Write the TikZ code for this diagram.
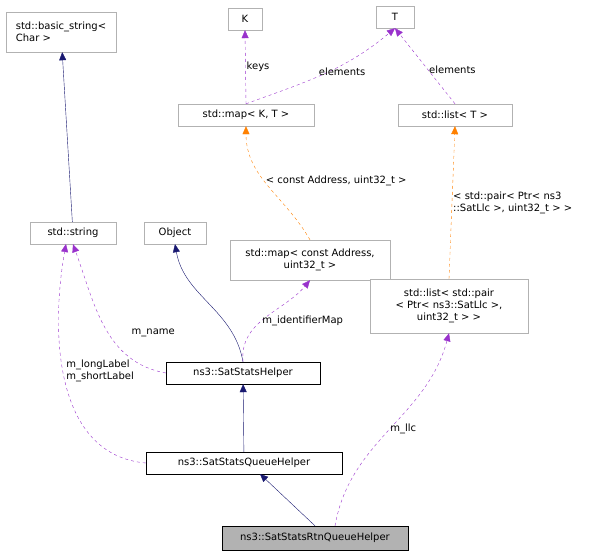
\documentclass[tikz,border=0pt]{standalone}
\usepackage{fontspec}
\setmainfont{DejaVu Sans}
\usetikzlibrary{arrows.meta}
\begin{document}
\begin{tikzpicture}[x=1pt,y=-1pt,
 box/.style={draw=#1,rectangle,inner sep=2pt,align=center,font=\fontsize{10}{12}\selectfont,fill=white},
 box/.default={black!30},
 inh/.style={draw={rgb,255:red,25;green,25;blue,112},-{Triangle[length=8pt,width=7pt]}},
 use/.style={draw={rgb,255:red,153;green,50;blue,204},dashed,-{Triangle[length=8pt,width=7pt]}},
 tpl/.style={draw=orange,dashed,-{Triangle[length=8pt,width=7pt]}},
 lab/.style={font=\fontsize{10}{12}\selectfont,align=left,inner sep=1pt}]
\useasboundingbox (0,0) rectangle (612,559);
\node[box,minimum width=34,minimum height=22] (K) at (245,19) {K};
\node[box,minimum width=38,minimum height=22] (T) at (395,17) {T};
\node[box,minimum width=110,minimum height=40,align=left] (bs) at (61,32) {std::basic\_string<\\ Char >};
\node[box,minimum width=136,minimum height=22] (mapKT) at (246,115) {std::map< K, T >};
\node[box,minimum width=114,minimum height=22] (listT) at (455,115) {std::list< T >};
\node[box,minimum width=86,minimum height=22] (str) at (73,233) {std::string};
\node[box,minimum width=62,minimum height=22] (obj) at (175,233) {Object};
\node[box,minimum width=160,minimum height=40] (mapA) at (310,260) {std::map< const Address,\\ uint32\_t >};
\node[box,minimum width=158,minimum height=54] (listP) at (449,306) {std::list< std::pair\\< Ptr< ns3::SatLlc >,\\ uint32\_t > >};
\node[box=black,minimum width=154,minimum height=22] (ssh) at (243,373) {ns3::SatStatsHelper};
\node[box=black,minimum width=196,minimum height=22] (sqh) at (244,463) {ns3::SatStatsQueueHelper};
\node[box=black,fill=black!30,minimum width=186,minimum height=24] (rtn) at (315,538) {ns3::SatStatsRtnQueueHelper};

\draw[inh] (str) -- (bs);
\draw[inh] (ssh.north) to[out=100,in=-80] (obj.south);
\draw[inh] (sqh) -- (ssh);
\draw[inh] (rtn.north) -- (260,474);

\draw[use] (mapKT.north) -- node[lab,right,pos=0.5]{keys} (K.south);
\draw[use] (mapKT.north) to[out=20,in=-140] node[lab,pos=0.45,above right]{elements} (T.south);
\draw[use] (listT.north) -- node[lab,pos=0.45,right]{elements} (T.south);
\draw[tpl] (mapA.north) to[out=120,in=-90] node[lab,pos=0.55,right]{< const Address, uint32\_t >} (mapKT.south);
\draw[tpl] (listP.north) -- node[lab,pos=0.5,right]{< std::pair< Ptr< ns3\\::SatLlc >, uint32\_t > >} (listT.south);
\draw[use] (ssh.west) to[out=170,in=-70] node[lab,pos=0.45,right=22pt]{m\_name} (str.south);
\draw[use] (sqh.west) to[out=175,in=-100] node[lab,pos=0.55,right=2pt]{m\_longLabel\\m\_shortLabel} (66,244);
\draw[use] (ssh.north) to[out=95,in=-130] node[lab,pos=0.45,right]{m\_identifierMap} (mapA.south);
\draw[use] (rtn.north) ++(20,0) coordinate (rt) (rt) to[out=80,in=-105] node[lab,pos=0.5,right]{m\_llc} (listP.south);
\end{tikzpicture}
\end{document}
